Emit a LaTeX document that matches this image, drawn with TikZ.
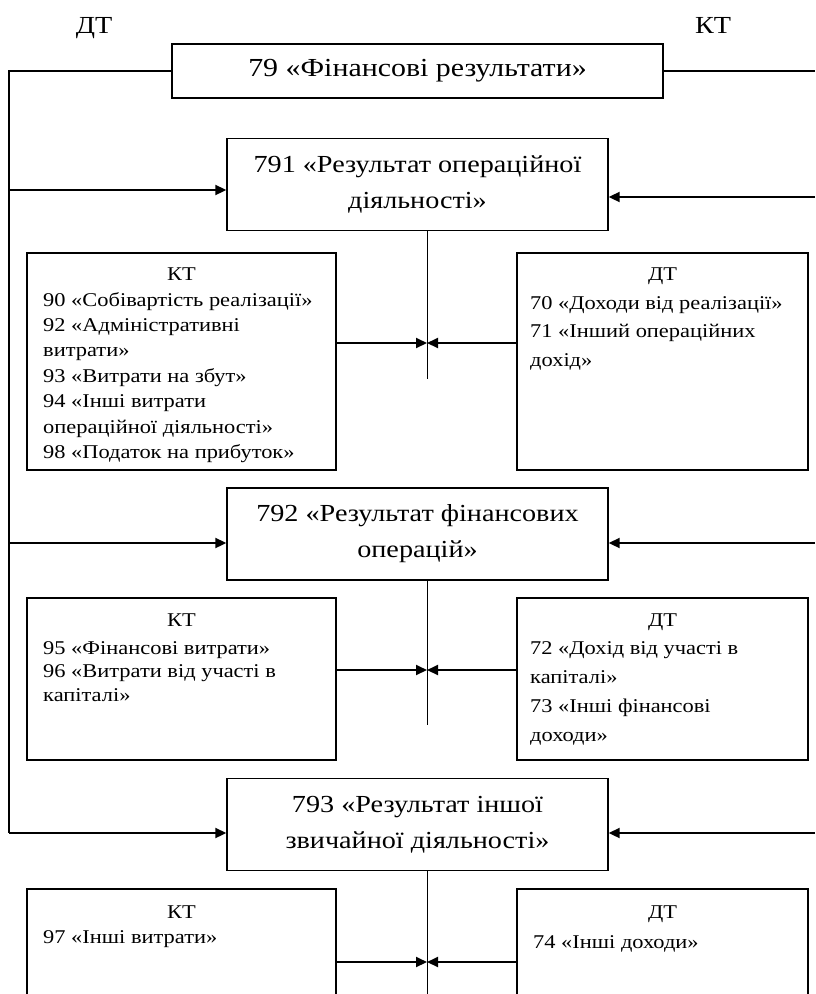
\documentclass[tikz,border=0pt]{standalone}
\usepackage{fontspec}
\setmainfont{Liberation Serif}[FakeStretch=1.15]
\usetikzlibrary{arrows.meta}
\begin{document}
\begin{tikzpicture}[x=1pt,y=-1pt,
  box/.style={draw, line width=1.4pt, inner sep=0pt},
  bigbox/.style={box, minimum width=381pt, minimum height=92pt, align=center,
    font=\fontsize{24.5}{36}\selectfont},
  sidebox/.style={box, minimum height=217pt},
  hdr/.style={font=\fontsize{19.5}{20}\selectfont, anchor=base, inner sep=0pt},
  itm/.style={font=\fontsize{19.5}{20}\selectfont, anchor=base west, inner sep=0pt},
  bus/.style={line width=1.3pt},
  arr/.style={line width=2pt, -{Triangle[length=11pt,width=10pt]}},
  vline/.style={line width=1pt}]
\useasboundingbox (0,0) rectangle (815,994);
\clip (0,0) rectangle (815,994);

% side labels
\node[font=\fontsize{24.5}{26}\selectfont, anchor=base, inner sep=0pt] (dt) at (94,33) {ДТ};
\node[font=\fontsize{24.5}{26}\selectfont, anchor=base, inner sep=0pt] (kt) at (713,33) {КТ};

% main boxes
\node[box, minimum width=491pt, minimum height=54pt, font=\fontsize{26}{36}\selectfont] (b79) at (417.5,71) {79 «Фінансові результати»};
\node[bigbox] (b791) at (417.5,184.5) {791 «Результат операційної\\діяльності»};
\node[bigbox] (b792) at (417.5,534) {792 «Результат фінансових\\операцій»};
\node[bigbox] (b793) at (417.5,824.5) {793 «Результат іншої\\звичайної діяльності»};

% side boxes
\node[sidebox, minimum width=309pt] (l1) at (181.5,361.5) {};
\node[sidebox, minimum width=291pt] (r1) at (662.5,361.5) {};
\node[sidebox, minimum width=309pt, minimum height=162pt] (l2) at (181.5,679) {};
\node[sidebox, minimum width=291pt, minimum height=162pt] (r2) at (662.5,679) {};
\node[sidebox, minimum width=309pt, minimum height=140pt] (l3) at (181.5,959) {};
\node[sidebox, minimum width=291pt, minimum height=140pt] (r3) at (662.5,959) {};

% box texts
\node[hdr] (l1h) at (181.5,280) {КТ};
\foreach \t [count=\i] in {90 «Собівартість реалізації», 92 «Адміністративні, витрати», 93 «Витрати на збут», 94 «Інші витрати, операційної діяльності», 98 «Податок на прибуток»}
  \node[itm] (l1t\i) at (43,{306+25.4*(\i-1)}) {\t};
\node[hdr] (r1h) at (662.5,280) {ДТ};
\foreach \t [count=\i] in {70 «Доходи від реалізації», 71 «Інший операційних, дохід»}
  \node[itm] (r1t\i) at (530,{309+28.5*(\i-1)}) {\t};

\node[hdr] (l2h) at (181.5,626) {КТ};
\foreach \t [count=\i] in {95 «Фінансові витрати», 96 «Витрати від участі в, капіталі»}
  \node[itm] (l2t\i) at (43,{654+23.5*(\i-1)}) {\t};
\node[hdr] (r2h) at (662.5,626) {ДТ};
\foreach \t [count=\i] in {72 «Дохід від участі в, капіталі», 73 «Інші фінансові, доходи»}
  \node[itm] (r2t\i) at (530,{654+29.3*(\i-1)}) {\t};

\node[hdr] (l3h) at (181.5,918) {КТ};
\node[itm] (l3t1) at (43,943) {97 «Інші витрати»};
\node[hdr] (r3h) at (662.5,918) {ДТ};
\node[itm] (r3t1) at (533,948) {74 «Інші доходи»};

% left bus
\coordinate (busTop) at (9,71);
\coordinate (busBot) at (9,833);
\draw[bus] (b79.west) -- (busTop) -- (busBot);
\coordinate (bl1) at (9,190);
\coordinate (bl2) at (9,543);
\draw[arr] (bl1) -- (b791.west |- bl1);
\draw[arr] (bl2) -- (b792.west |- bl2);
\draw[arr] (busBot) -- (b793.west |- busBot);

% right side
\coordinate (rTop) at (815,71);
\draw[bus] (b79.east) -- (rTop);
\coordinate (br1) at (815,197);
\coordinate (br2) at (815,543);
\coordinate (br3) at (815,833);
\draw[arr] (br1) -- (b791.east |- br1);
\draw[arr] (br2) -- (b792.east |- br2);
\draw[arr] (br3) -- (b793.east |- br3);

% central vertical lines and arrows
\coordinate (v1) at (427,379);
\coordinate (v2) at (427,725);
\coordinate (v3) at (427,1000);
\draw[vline] (b791.south -| v1) -- (v1);
\draw[vline] (b792.south -| v2) -- (v2);
\draw[vline] (b793.south -| v3) -- (v3);
\coordinate (m1) at (427,343);
\coordinate (m2) at (427,670);
\coordinate (m3) at (427,962);
\draw[arr] (l1.east |- m1) -- (m1);
\draw[arr] (r1.west |- m1) -- (m1);
\draw[arr] (l2.east |- m2) -- (m2);
\draw[arr] (r2.west |- m2) -- (m2);
\draw[arr] (l3.east |- m3) -- (m3);
\draw[arr] (r3.west |- m3) -- (m3);
\end{tikzpicture}
\end{document}
